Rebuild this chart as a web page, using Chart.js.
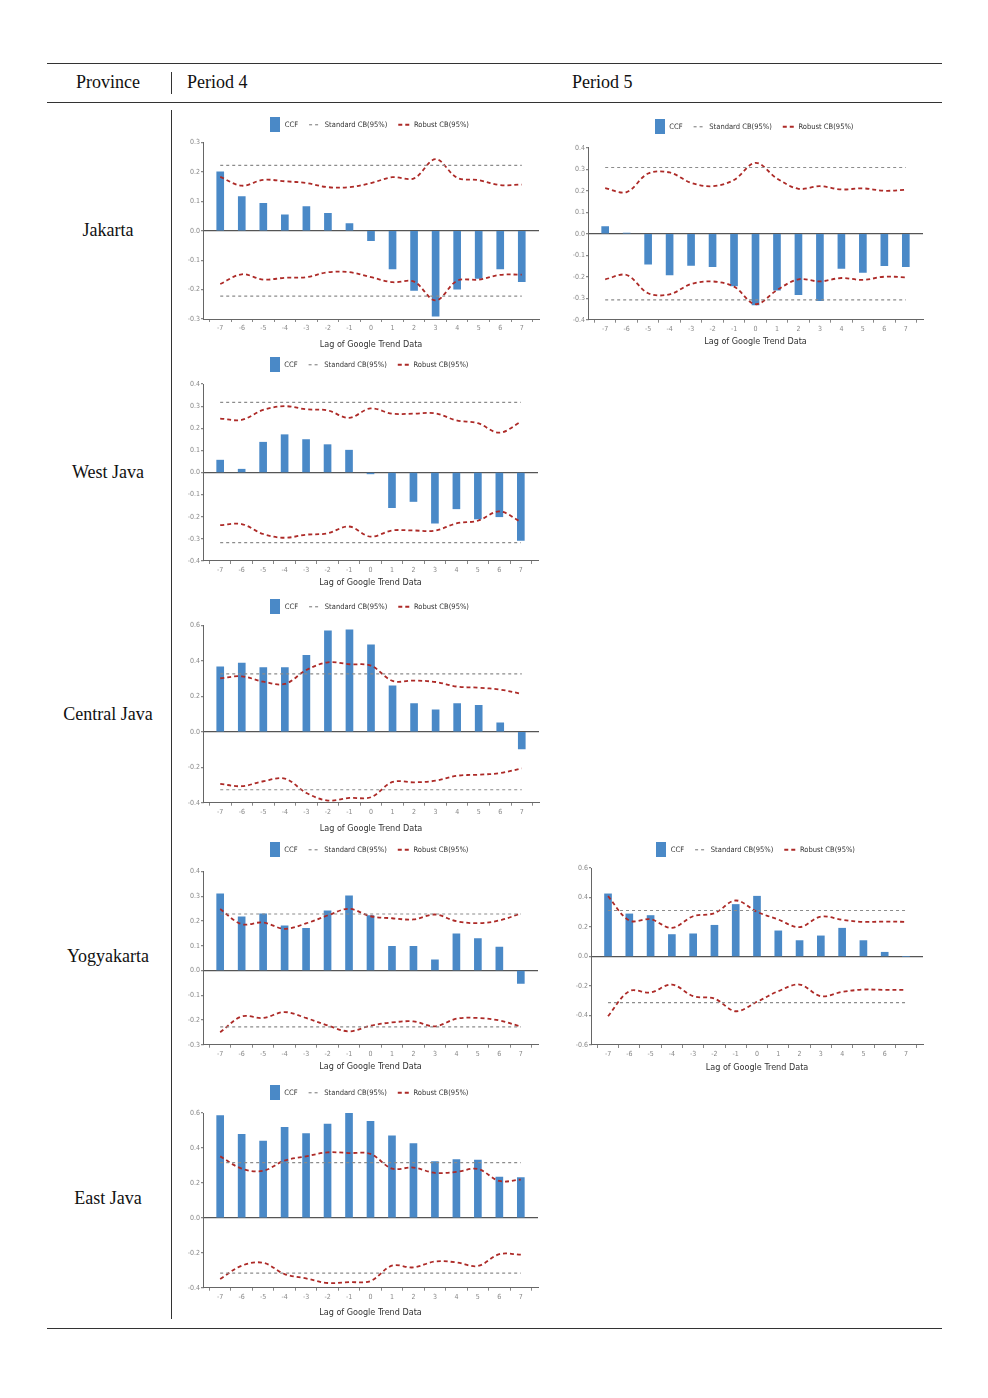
<!DOCTYPE html>
<html>
<head>
<meta charset="utf-8">
<title>CCF by province</title>
<script src="https://cdn.jsdelivr.net/npm/chart.js@4.4.0/dist/chart.umd.min.js"></script>
<style>
  body { margin: 0; background: #fff; }
  #page { position: relative; width: 988px; height: 1398px; font-family: "Liberation Serif", "Times New Roman", serif; color: #111; }
  .rule { position: absolute; left: 47px; width: 895px; background: #333; }
  .vbar { position: absolute; left: 171px; width: 1px; background: #333; }
  .txt { position: absolute; font-size: 18px; line-height: 20px; white-space: nowrap; }
  .prov { position: absolute; width: 124px; left: 46px; text-align: center; font-size: 18px; line-height: 20px; }
  .panel { position: absolute; }
</style>
</head>
<body>
<div id="page">
  <div class="rule" style="top:63px;height:1.3px"></div>
  <div class="rule" style="top:101.5px;height:1px"></div>
  <div class="rule" style="top:1328px;height:1.3px"></div>
  <div class="vbar" style="top:72px;height:22px"></div>
  <div class="vbar" style="top:110px;height:1209px"></div>
  <div class="txt" style="left:76px;top:72px">Province</div>
  <div class="txt" style="left:187px;top:72px">Period 4</div>
  <div class="txt" style="left:572px;top:72px">Period 5</div>
  <div class="prov" style="top:220px">Jakarta</div>
  <div class="prov" style="top:462px">West Java</div>
  <div class="prov" style="top:704px">Central Java</div>
  <div class="prov" style="top:946px">Yogyakarta</div>
  <div class="prov" style="top:1188px">East Java</div>
</div>
<script>
var lags = [-7, -6, -5, -4, -3, -2, -1, 0, 1, 2, 3, 4, 5, 6, 7];

// Jakarta, period 4
var jakartaP4Ccf = [0.200, 0.116, 0.093, 0.054, 0.082, 0.059, 0.024, -0.034, -0.130, -0.203, -0.290, -0.199, -0.162, -0.130, -0.173];
var jakartaP4RobustUp = [0.183, 0.153, 0.173, 0.168, 0.162, 0.148, 0.148, 0.162, 0.182, 0.178, 0.243, 0.180, 0.172, 0.155, 0.157];
var jakartaP4RobustLo = [-0.181, -0.148, -0.166, -0.160, -0.158, -0.141, -0.141, -0.158, -0.175, -0.173, -0.237, -0.170, -0.166, -0.150, -0.149];
var jakartaP4StdCb = 0.222;
var jakartaP4YTicks = [-0.3, -0.2, -0.1, 0, 0.1, 0.2, 0.3];

// Jakarta, period 5
var jakartaP5Ccf = [0.033, 0.003, -0.142, -0.192, -0.147, -0.153, -0.243, -0.331, -0.263, -0.283, -0.311, -0.161, -0.180, -0.149, -0.153];
var jakartaP5RobustUp = [0.212, 0.194, 0.280, 0.285, 0.237, 0.221, 0.250, 0.330, 0.257, 0.209, 0.221, 0.206, 0.211, 0.200, 0.204];
var jakartaP5RobustLo = [-0.212, -0.192, -0.277, -0.282, -0.234, -0.222, -0.246, -0.328, -0.262, -0.212, -0.222, -0.206, -0.215, -0.200, -0.203];
var jakartaP5StdCb = 0.308;
var jakartaP5YTicks = [-0.4, -0.3, -0.2, -0.1, 0, 0.1, 0.2, 0.3, 0.4];

// West Java, period 4
var westJavaCcf = [0.056, 0.015, 0.137, 0.171, 0.149, 0.126, 0.101, -0.006, -0.159, -0.131, -0.229, -0.164, -0.210, -0.200, -0.307];
var westJavaRobustUp = [0.244, 0.238, 0.283, 0.300, 0.286, 0.281, 0.247, 0.290, 0.266, 0.266, 0.268, 0.236, 0.223, 0.180, 0.229];
var westJavaRobustLo = [-0.238, -0.233, -0.278, -0.295, -0.281, -0.275, -0.244, -0.290, -0.262, -0.262, -0.263, -0.230, -0.218, -0.176, -0.223];
var westJavaStdCb = 0.317;
var westJavaYTicks = [-0.4, -0.3, -0.2, -0.1, 0, 0.1, 0.2, 0.3, 0.4];

// Central Java, period 4
var centralJavaCcf = [0.367, 0.388, 0.362, 0.362, 0.431, 0.570, 0.575, 0.491, 0.259, 0.159, 0.124, 0.159, 0.150, 0.051, -0.097];
var centralJavaRobustUp = [0.302, 0.313, 0.283, 0.270, 0.349, 0.392, 0.381, 0.373, 0.287, 0.289, 0.281, 0.255, 0.249, 0.238, 0.214];
var centralJavaRobustLo = [-0.294, -0.307, -0.279, -0.264, -0.345, -0.388, -0.373, -0.369, -0.283, -0.285, -0.276, -0.248, -0.242, -0.233, -0.206];
var centralJavaStdCb = 0.327;
var centralJavaYTicks = [-0.4, -0.2, 0, 0.2, 0.4, 0.6];

// Yogyakarta, period 4
var yogyaP4Ccf = [0.310, 0.217, 0.229, 0.180, 0.170, 0.241, 0.301, 0.222, 0.097, 0.097, 0.043, 0.148, 0.129, 0.094, -0.052];
var yogyaP4RobustUp = [0.248, 0.187, 0.194, 0.168, 0.190, 0.222, 0.249, 0.219, 0.211, 0.206, 0.226, 0.199, 0.191, 0.202, 0.230];
var yogyaP4RobustLo = [-0.250, -0.186, -0.192, -0.168, -0.192, -0.222, -0.246, -0.223, -0.210, -0.206, -0.226, -0.195, -0.192, -0.202, -0.227];
var yogyaP4StdCb = 0.228;
var yogyaP4YTicks = [-0.3, -0.2, -0.1, 0, 0.1, 0.2, 0.3, 0.4];

// Yogyakarta, period 5
var yogyaP5Ccf = [0.425, 0.289, 0.278, 0.149, 0.154, 0.212, 0.353, 0.409, 0.174, 0.108, 0.140, 0.192, 0.108, 0.029, 0];
var yogyaP5RobustUp = [0.409, 0.244, 0.253, 0.194, 0.273, 0.294, 0.380, 0.303, 0.251, 0.199, 0.271, 0.249, 0.235, 0.237, 0.235];
var yogyaP5RobustLo = [-0.404, -0.235, -0.244, -0.190, -0.269, -0.285, -0.371, -0.307, -0.235, -0.190, -0.269, -0.240, -0.224, -0.226, -0.226];
var yogyaP5StdCb = 0.312;
var yogyaP5YTicks = [-0.6, -0.4, -0.2, 0, 0.2, 0.4, 0.6];

// East Java, period 4
var eastJavaCcf = [0.585, 0.478, 0.440, 0.518, 0.482, 0.537, 0.600, 0.552, 0.469, 0.425, 0.322, 0.333, 0.331, 0.234, 0.230];
var eastJavaRobustUp = [0.352, 0.282, 0.269, 0.328, 0.352, 0.375, 0.371, 0.366, 0.282, 0.288, 0.257, 0.263, 0.280, 0.211, 0.219];
var eastJavaRobustLo = [-0.350, -0.274, -0.257, -0.322, -0.347, -0.373, -0.368, -0.362, -0.274, -0.284, -0.250, -0.255, -0.276, -0.208, -0.211];
var eastJavaStdCb = 0.316;
var eastJavaYTicks = [-0.4, -0.2, 0, 0.2, 0.4, 0.6];

var BAR_COLOR = '#4a89c7';
var ROBUST_COLOR = '#ad2a27';
var STD_COLOR = '#8c8c8c';
var NARROW = '"Liberation Sans Narrow", "DejaVu Sans Condensed", "Arial Narrow", sans-serif';

// plot geometry on the page: [plot left, plot right, legend y, plot top, plot bottom, x title y]
var panels = [
  { ccf: jakartaP4Ccf, up: jakartaP4RobustUp, lo: jakartaP4RobustLo, cb: jakartaP4StdCb, yt: jakartaP4YTicks, pos: [203, 539, 125, 142.7, 319.3, 345] },
  { ccf: jakartaP5Ccf, up: jakartaP5RobustUp, lo: jakartaP5RobustLo, cb: jakartaP5StdCb, yt: jakartaP5YTicks, pos: [588, 923, 127, 148, 320, 342] },
  { ccf: westJavaCcf, up: westJavaRobustUp, lo: westJavaRobustLo, cb: westJavaStdCb, yt: westJavaYTicks, pos: [203, 538, 365, 384.3, 561.3, 583] },
  { ccf: centralJavaCcf, up: centralJavaRobustUp, lo: centralJavaRobustLo, cb: centralJavaStdCb, yt: centralJavaYTicks, pos: [203, 539, 607, 625.7, 803, 829] },
  { ccf: yogyaP4Ccf, up: yogyaP4RobustUp, lo: yogyaP4RobustLo, cb: yogyaP4StdCb, yt: yogyaP4YTicks, pos: [203, 538, 850, 871.7, 1045, 1067] },
  { ccf: yogyaP5Ccf, up: yogyaP5RobustUp, lo: yogyaP5RobustLo, cb: yogyaP5StdCb, yt: yogyaP5YTicks, pos: [591, 923, 850, 868.3, 1045.3, 1068] },
  { ccf: eastJavaCcf, up: eastJavaRobustUp, lo: eastJavaRobustLo, cb: eastJavaStdCb, yt: eastJavaYTicks, pos: [203, 538, 1093, 1113.3, 1288, 1313] }
];

// little filled key for the CCF legend entry
var ccfKey = document.createElement('canvas');
ccfKey.width = 10;
ccfKey.height = 15;
var kctx = ccfKey.getContext('2d');
kctx.fillStyle = BAR_COLOR;
kctx.fillRect(0, 0, 10, 15);

function pts(arr) {
  return lags.map(function(x, i) { return { x: x, y: arr[i] }; });
}

Chart.defaults.font.family = NARROW;
Chart.defaults.animation = false;

var legendPad = 11, legendFont = 7.5, yAxisW = 25;

panels.forEach(function(p) {
  var l = p.pos[0], r = p.pos[1], legY = p.pos[2], top = p.pos[3], bottom = p.pos[4], titleY = p.pos[5];
  var cLeft = l - yAxisW;
  var cTop = legY - (legendPad + legendFont / 2);
  var w = r + 5 - cLeft;
  var xh = titleY - bottom + 5.4;
  var h = bottom - cTop + xh;
  var legH = top - cTop;

  var box = document.createElement('div');
  box.className = 'panel';
  box.style.left = cLeft + 'px';
  box.style.top = cTop + 'px';
  box.style.width = w + 'px';
  box.style.height = h + 'px';
  var cv = document.createElement('canvas');
  box.appendChild(cv);
  document.getElementById('page').appendChild(box);

  var dashStd = [3, 3], dashRob = [4, 3];
  var stdLine = [{ x: lags[0], y: p.cb }, { x: lags[lags.length - 1], y: p.cb }];
  var stdLineLo = [{ x: lags[0], y: -p.cb }, { x: lags[lags.length - 1], y: -p.cb }];

  new Chart(cv.getContext('2d'), {
    type: 'bar',
    data: {
      datasets: [
        { type: 'line', label: 'Standard CB(95%)', data: stdLine, borderColor: STD_COLOR, borderWidth: 1.2, borderDash: dashStd, pointRadius: 0, fill: false },
        { type: 'line', label: '', data: stdLineLo, borderColor: STD_COLOR, borderWidth: 1.2, borderDash: dashStd, pointRadius: 0, fill: false },
        { type: 'line', label: 'Robust CB(95%)', data: pts(p.up), borderColor: ROBUST_COLOR, borderWidth: 1.8, borderDash: dashRob, pointRadius: 0, tension: 0.35, fill: false },
        { type: 'line', label: '', data: pts(p.lo), borderColor: ROBUST_COLOR, borderWidth: 1.8, borderDash: dashRob, pointRadius: 0, tension: 0.35, fill: false },
        { type: 'bar', label: 'CCF', data: pts(p.ccf), backgroundColor: BAR_COLOR, borderWidth: 0, barThickness: 7 }
      ]
    },
    options: {
      responsive: true,
      maintainAspectRatio: false,
      layout: { padding: { left: 0, right: 5, top: 0, bottom: 0 } },
      plugins: {
        tooltip: { enabled: false },
        fixLegend: { height: legH, shift: yAxisW / 2 - 2 },
        legend: {
          position: 'top',
          labels: {
            usePointStyle: true,
            pointStyleWidth: 12,
            padding: legendPad,
            color: '#333',
            font: { size: legendFont },
            generateLabels: function(chart) {
              return [
                { text: 'CCF', fillStyle: BAR_COLOR, strokeStyle: BAR_COLOR, lineWidth: 0, pointStyle: ccfKey, datasetIndex: 4, hidden: false, fontColor: '#333' },
                { text: 'Standard CB(95%)', fillStyle: 'rgba(0,0,0,0)', strokeStyle: STD_COLOR, lineWidth: 1.2, lineDash: dashStd, pointStyle: 'line', datasetIndex: 0, hidden: false, fontColor: '#333' },
                { text: 'Robust CB(95%)', fillStyle: 'rgba(0,0,0,0)', strokeStyle: ROBUST_COLOR, lineWidth: 1.8, lineDash: dashRob, pointStyle: 'line', datasetIndex: 2, hidden: false, fontColor: '#333' }
              ];
            }
          }
        }
      },
      scales: {
        x: {
          type: 'linear',
          offset: false,
          min: -7.8,
          max: 7.8,
          afterBuildTicks: function(s) { s.ticks = lags.map(function(v) { return { value: v }; }); },
          afterFit: function(s) { s.height = xh; },
          grid: { drawOnChartArea: false, drawTicks: true, tickLength: 3, tickColor: '#888' },
          border: { color: '#666', width: 1 },
          ticks: { color: '#888', font: { size: 7 }, padding: 2, maxRotation: 0, autoSkip: false,
                   callback: function(v) { return String(v); } },
          title: { display: true, text: 'Lag of Google Trend Data', color: '#333', font: { size: 9 }, padding: 0 }
        },
        y: {
          min: p.yt[0],
          max: p.yt[p.yt.length - 1],
          afterBuildTicks: function(s) { s.ticks = p.yt.map(function(v) { return { value: v }; }); },
          afterFit: function(s) { s.width = yAxisW; },
          grid: {
            color: function(ctx) { return ctx.tick && Math.abs(ctx.tick.value) < 1e-9 ? '#555' : 'rgba(0,0,0,0)'; },
            lineWidth: 1.2,
            drawTicks: true,
            tickLength: 2,
            tickColor: '#888'
          },
          border: { color: '#666', width: 1 },
          ticks: { color: '#888', font: { size: 7 }, padding: 1,
                   callback: function(v) { return Number(v).toFixed(1); } }
        }
      }
    },
    plugins: [{
      id: 'fixLegend',
      beforeInit: function(chart, args, opts) {
        if (!chart.legend) return;
        var fit = chart.legend.fit;
        chart.legend.fit = function() {
          fit.bind(chart.legend)();
          this.height = opts.height;
          // nudge the centred row so it sits over the plot, not the whole canvas
          if (this.lineWidths && this.lineWidths.length) this.lineWidths[0] -= 2 * opts.shift;
        };
      }
    }]
  });
});
</script>
</body>
</html>
